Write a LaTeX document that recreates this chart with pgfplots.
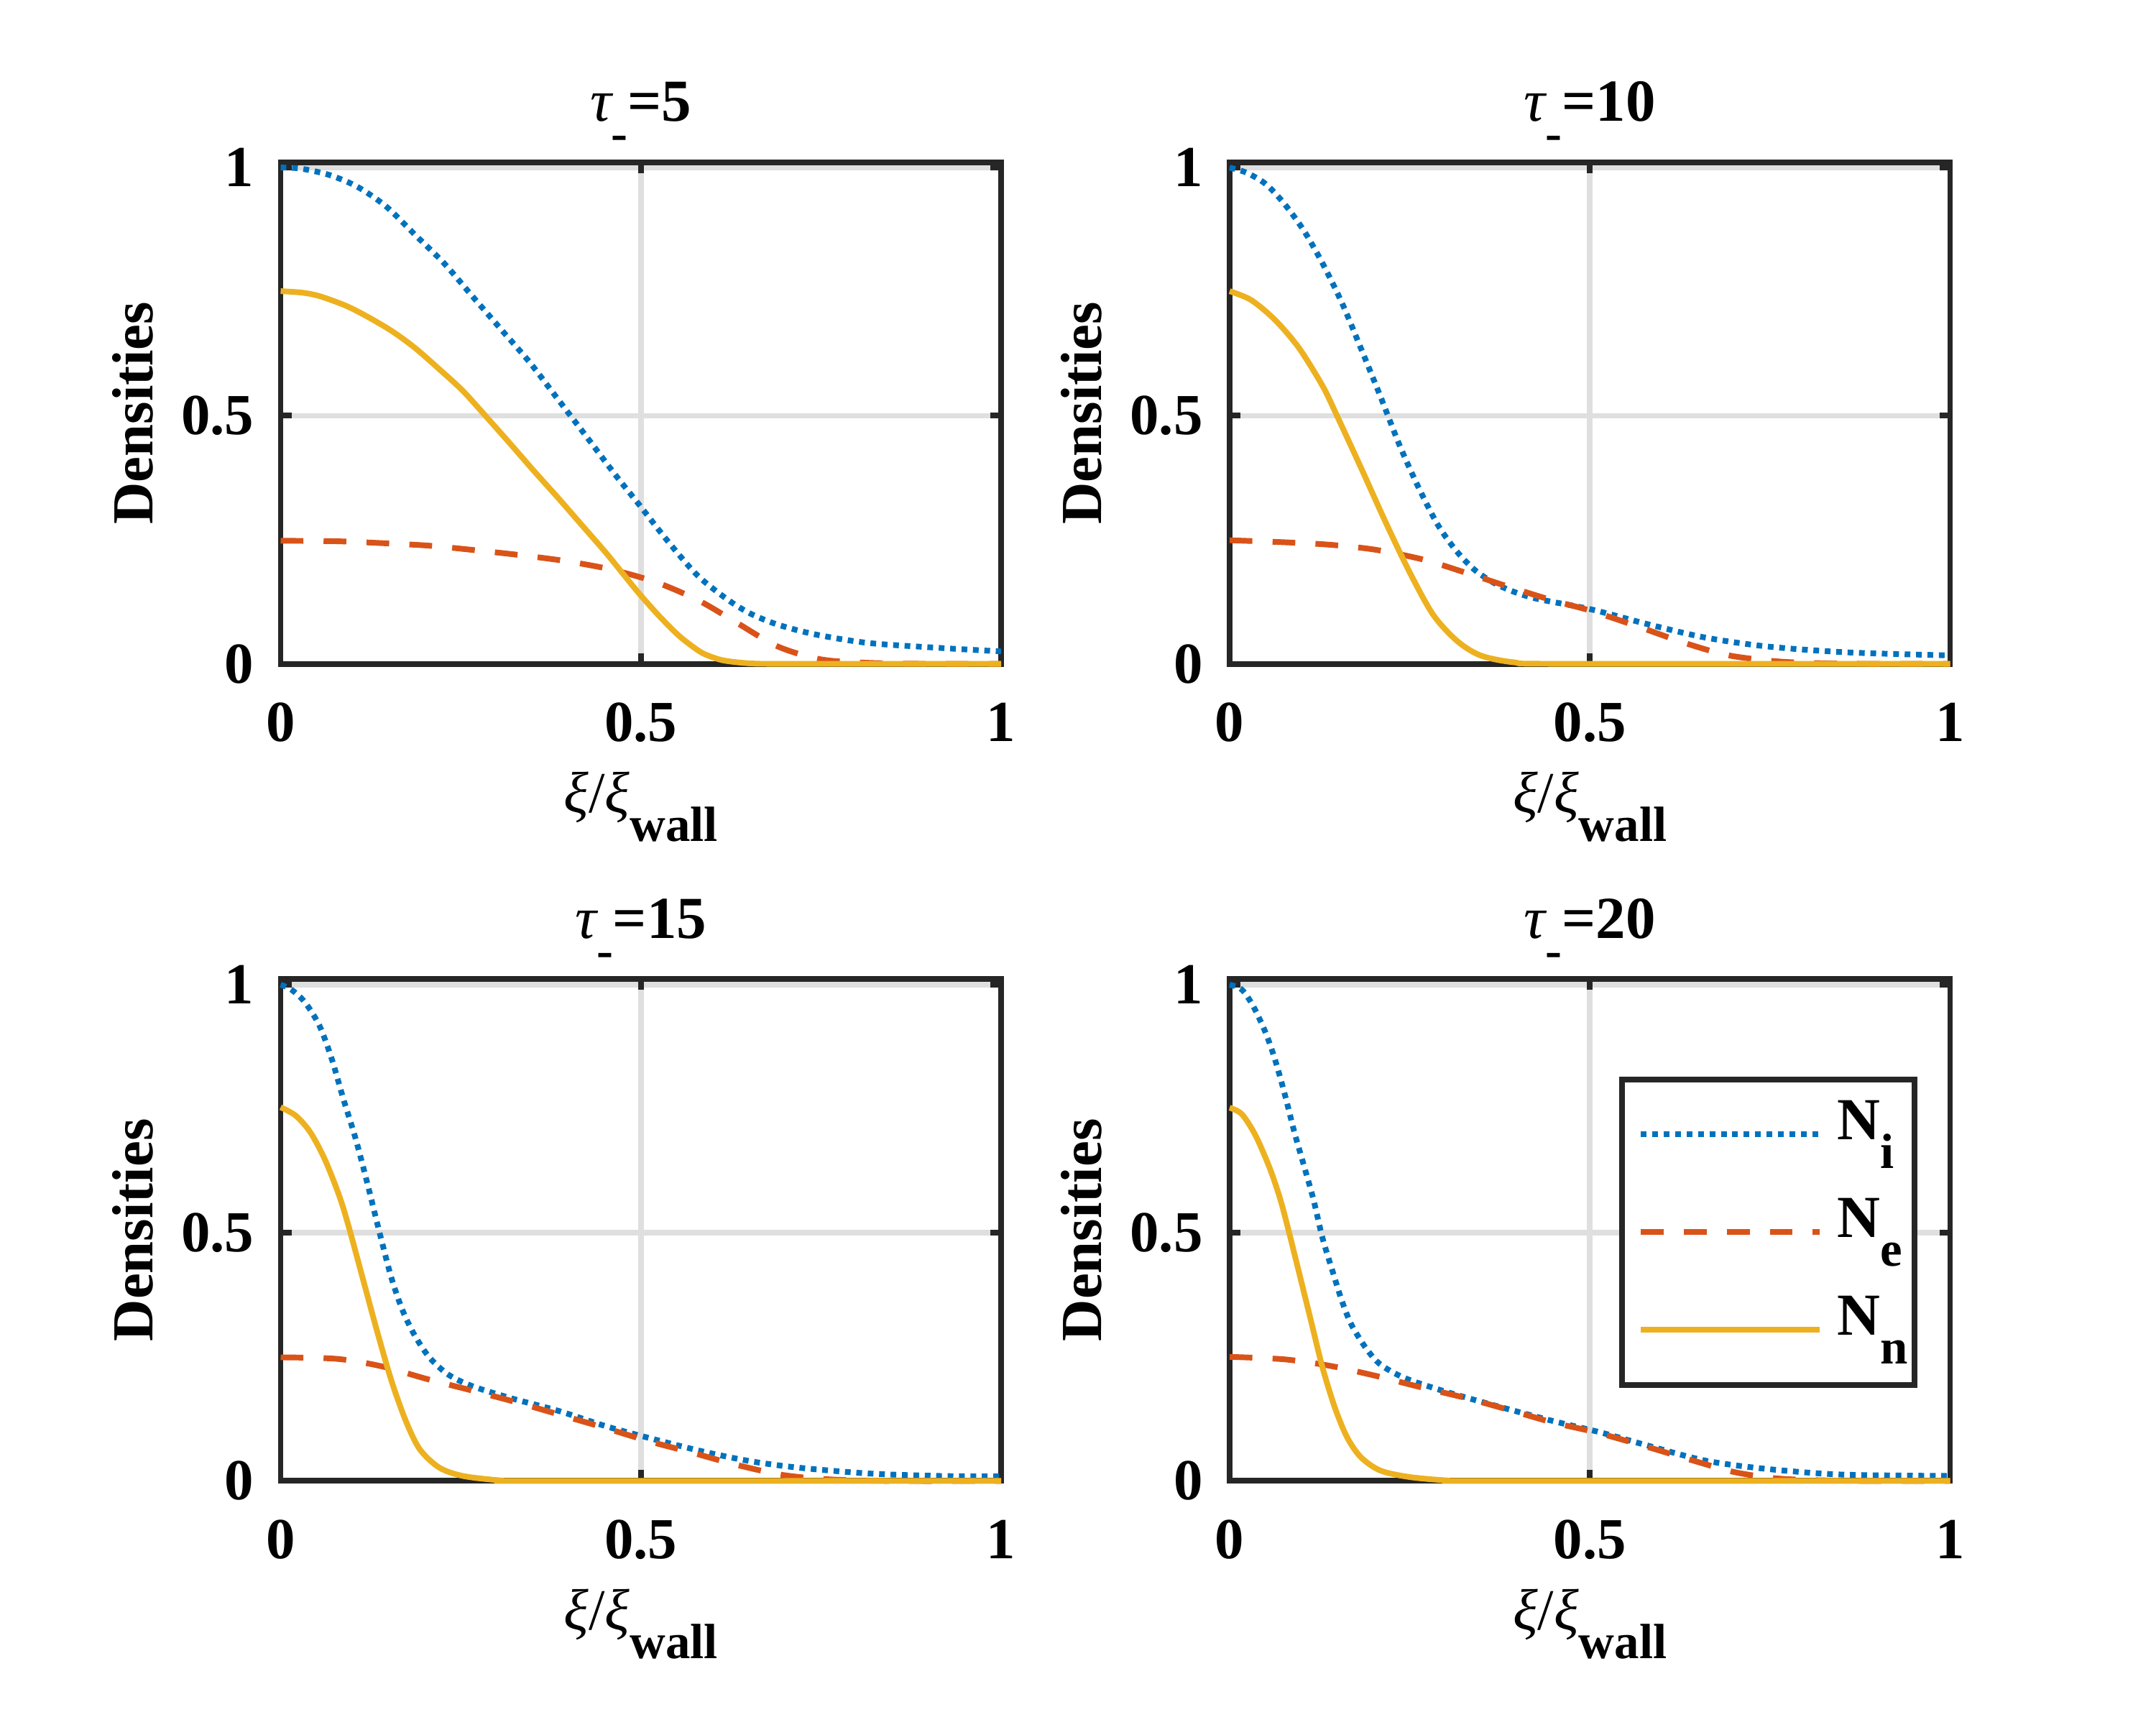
\documentclass[border=0pt]{standalone}
\usepackage{fontspec}
\setmainfont{Liberation Serif}
\usepackage{pgfplots}
\pgfplotsset{compat=1.18}
\definecolor{mblue}{rgb}{0,0.447,0.741}
\definecolor{mred}{rgb}{0.85,0.325,0.098}
\definecolor{myel}{rgb}{0.929,0.694,0.125}
\definecolor{axc}{rgb}{0.15,0.15,0.15}
\definecolor{gridc}{rgb}{0.875,0.875,0.875}
\newcommand{\tsub}[1]{\raisebox{-0.2cm}{\fontsize{9.8}{10}\selectfont\bfseries #1}}
\newcommand{\xlab}{{\mdseries\itshape ξ}{\mdseries /}{\mdseries\itshape ξ}\tsub{wall}}
\newcommand{\ttl}[1]{{\mdseries\itshape τ}\tsub{-}=#1}
\pgfplotsset{
  panel/.style={
    scale only axis, width=5.0125cm, height=3.49cm,
    xmin=0, xmax=1, ymin=0, ymax=1.011,
    xtick={0,0.5,1}, ytick={0,0.5,1},
    /pgf/number format/assume math mode=true,
    grid=major, major grid style={gridc, line width=1.1pt},
    axis line style={axc, line width=1.13pt},
    tick style={axc, line width=1.13pt},
    tick align=inside, major tick length=0.075cm,
    clip=false,
    font=\fontsize{11.5}{13.8}\selectfont\bfseries,
    xticklabel style={anchor=base, yshift=-0.54cm},
    yticklabel style={anchor=east, inner sep=0pt, xshift=-0.18cm},
    xlabel={\xlab}, ylabel={Densities},
    xlabel style={at={(axis description cs:0.5,-0.2966)}, anchor=base},
    ylabel style={at={(axis description cs:-0.1776,0.5)}, anchor=base},
    every axis title shift=0pt,
    title style={at={(axis description cs:0.5,1.0817)}, anchor=base, yshift=0pt, font=\fontsize{11.8}{14}\selectfont\bfseries},
  },
  ni/.style={mblue, line width=1.13pt, dash pattern=on 1.13pt off 1.13pt, smooth, tension=0.5},
  ne/.style={mred, line width=1.13pt, dash pattern=on 4.5pt off 4pt, smooth, tension=0.5},
  nn/.style={myel, line width=1.13pt, smooth, tension=0.5},
}
\begin{document}
\begin{tikzpicture}
\useasboundingbox (0,0) rectangle (15,12);
% Panel 1
\begin{axis}[panel, at={(1.9525cm,7.382cm)}, anchor=south west, title={\ttl{5}}]
\addplot[ni] coordinates {(0,1.0)(0.028,0.998)(0.068,0.985)(0.107,0.961)(0.147,0.921)(0.187,0.864)(0.227,0.807)(0.266,0.741)(0.306,0.674)(0.346,0.607)(0.385,0.533)(0.425,0.457)(0.465,0.38)(0.498,0.32)(0.538,0.246)(0.578,0.179)(0.618,0.132)(0.651,0.102)(0.69,0.079)(0.743,0.059)(0.816,0.042)(0.916,0.032)(1.0,0.025)};
\addplot[ne] coordinates {(0,0.248)(0.078,0.247)(0.144,0.243)(0.207,0.238)(0.27,0.229)(0.333,0.219)(0.396,0.207)(0.459,0.19)(0.522,0.164)(0.581,0.127)(0.634,0.082)(0.69,0.035)(0.75,0.009)(0.816,0.002)(0.9,0)(1,0)};
\addplot[nn] coordinates {(0,0.751)(0.03,0.748)(0.054,0.741)(0.09,0.722)(0.12,0.70)(0.155,0.670)(0.187,0.636)(0.22,0.594)(0.253,0.550)(0.286,0.497)(0.319,0.443)(0.352,0.388)(0.386,0.333)(0.419,0.278)(0.452,0.223)(0.476,0.180)(0.498,0.141)(0.525,0.097)(0.551,0.059)(0.568,0.039)(0.585,0.022)(0.602,0.012)(0.618,0.006)(0.651,0.001)(0.7,0)(1,0)};
\end{axis}
% Panel 2
\begin{axis}[panel, at={(8.555cm,7.382cm)}, anchor=south west, title={\ttl{10}}]
\addplot[ni] coordinates {(0,1.0)(0.023,0.99)(0.05,0.967)(0.076,0.927)(0.103,0.873)(0.129,0.807)(0.156,0.727)(0.183,0.633)(0.209,0.54)(0.236,0.44)(0.263,0.353)(0.289,0.28)(0.315,0.227)(0.342,0.187)(0.375,0.157)(0.421,0.133)(0.501,0.11)(0.58,0.08)(0.66,0.053)(0.746,0.035)(0.859,0.023)(1.0,0.017)};
\addplot[ne] coordinates {(0,0.249)(0.076,0.245)(0.139,0.24)(0.202,0.23)(0.269,0.21)(0.329,0.183)(0.388,0.155)(0.448,0.128)(0.501,0.107)(0.567,0.075)(0.634,0.041)(0.693,0.017)(0.76,0.005)(0.826,0.001)(0.9,0)(1,0)};
\addplot[nn] coordinates {(0,0.751)(0.03,0.733)(0.063,0.693)(0.096,0.637)(0.129,0.56)(0.149,0.5)(0.183,0.393)(0.216,0.287)(0.249,0.187)(0.282,0.10)(0.315,0.047)(0.348,0.017)(0.395,0.003)(0.46,0)(1,0)};
\end{axis}
% Panel 3
\begin{axis}[panel, at={(1.9525cm,1.698cm)}, anchor=south west, title={\ttl{15}}]
\addplot[ni] coordinates {(0,1.0)(0.015,0.99)(0.034,0.964)(0.054,0.917)(0.071,0.85)(0.087,0.77)(0.104,0.69)(0.121,0.596)(0.137,0.502)(0.154,0.408)(0.17,0.341)(0.187,0.291)(0.207,0.248)(0.233,0.214)(0.266,0.191)(0.319,0.167)(0.386,0.141)(0.452,0.11)(0.518,0.084)(0.584,0.06)(0.651,0.04)(0.717,0.027)(0.816,0.015)(0.916,0.01)(1.0,0.009)};
\addplot[ne] coordinates {(0,0.249)(0.078,0.246)(0.14,0.231)(0.204,0.205)(0.266,0.182)(0.326,0.159)(0.386,0.134)(0.452,0.106)(0.511,0.08)(0.571,0.057)(0.631,0.033)(0.697,0.012)(0.763,0.003)(0.85,0)(1,0)};
\addplot[nn] coordinates {(0,0.753)(0.021,0.736)(0.041,0.703)(0.061,0.649)(0.081,0.576)(0.094,0.515)(0.114,0.408)(0.134,0.301)(0.154,0.201)(0.174,0.12)(0.193,0.064)(0.22,0.027)(0.253,0.01)(0.306,0.001)(0.35,0)(1,0)};
\end{axis}
% Panel 4
\begin{axis}[panel, at={(8.555cm,1.698cm)}, anchor=south west, title={\ttl{20}},
  legend cell align=left,
  legend image code/.code={\draw[#1] (0cm,0cm) -- (1.245cm,0cm);},
  legend style={at={(axis description cs:0.5411,0.8063)}, anchor=north west,
    draw=axc, line width=1.13pt, fill=white,
    inner xsep=0.11cm, inner ysep=0.1475cm, row sep=0.21cm, column sep=0.10cm,
    font=\fontsize{11.8}{14}\selectfont\bfseries,
    nodes={inner sep=0pt, text height=0.27cm, text depth=0.2cm, text width=0.43cm, align=left}}]
\addplot[ni] coordinates {(0,1.0)(0.017,0.99)(0.033,0.956)(0.05,0.903)(0.063,0.849)(0.076,0.782)(0.09,0.702)(0.103,0.636)(0.116,0.569)(0.129,0.489)(0.143,0.422)(0.156,0.362)(0.169,0.315)(0.189,0.268)(0.209,0.235)(0.242,0.208)(0.295,0.182)(0.368,0.152)(0.448,0.121)(0.514,0.098)(0.581,0.071)(0.66,0.041)(0.74,0.025)(0.846,0.013)(1.0,0.01)};
\addlegendentry{N\tsub{i}}
\addplot[ne] coordinates {(0,0.25)(0.076,0.245)(0.139,0.232)(0.202,0.212)(0.262,0.19)(0.328,0.167)(0.388,0.143)(0.448,0.118)(0.508,0.098)(0.574,0.071)(0.634,0.045)(0.7,0.018)(0.76,0.005)(0.826,0.001)(0.9,0)(1,0)};
\addlegendentry{N\tsub{e}}
\addplot[nn] coordinates {(0,0.752)(0.017,0.739)(0.036,0.696)(0.056,0.629)(0.07,0.569)(0.08,0.515)(0.096,0.422)(0.113,0.322)(0.129,0.228)(0.146,0.148)(0.163,0.088)(0.182,0.048)(0.209,0.021)(0.249,0.008)(0.302,0.001)(0.35,0)(1,0)};
\addlegendentry{N\tsub{n}}
\end{axis}
\end{tikzpicture}
\end{document}
